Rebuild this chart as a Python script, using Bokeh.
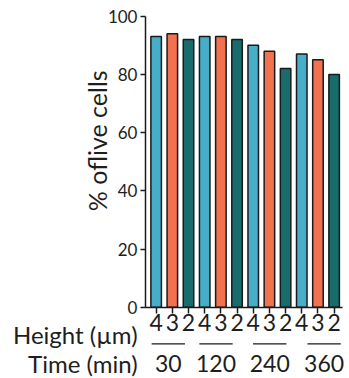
import math
from bokeh.plotting import figure
from bokeh.models import Range1d, FixedTicker, ColumnDataSource
from bokeh.core.properties import value
from bokeh.embed import file_html
from bokeh.resources import INLINE

# Data
heights = ["4", "3", "2"] * 4
times = ["30", "120", "240", "360"]
values = [93, 94, 92, 93, 93, 92, 90, 88, 82, 87, 85, 80]
palette = {"4": "#46AFC7", "3": "#F2714E", "2": "#186C6B"}
y_ticks = [0, 20, 40, 60, 80, 100]
y_label = "% oflive cells"

xs = list(range(1, len(values) + 1))
colors = [palette[h] for h in heights]
src = ColumnDataSource(dict(x=xs, top=values, color=colors))

FONT = "Lato"
TXT = "#1e1e1e"
AX = "#1a1a1a"

X0, X1 = 0.34, 12.5   # axis extent in data units

p = figure(width=349, height=378, output_backend="svg", toolbar_location=None,
           x_range=Range1d(-8.62, 12.95), y_range=Range1d(-24.5, 105.4),
           min_border=0)
p.vbar(x="x", top="top", width=0.65, source=src, fill_color="color",
       line_color=AX, line_width=1.5)

p.grid.visible = False
p.outline_line_color = None
p.background_fill_color = "white"
p.border_fill_color = "white"

# y axis
ya = p.yaxis[0]
ya.fixed_location = X0
ya.bounds = (0, 100)
ya.ticker = FixedTicker(ticks=y_ticks)
ya.major_label_text_font = FONT
ya.major_label_text_font_size = "17px"
ya.major_label_text_color = TXT
ya.major_label_standoff = 3
ya.major_tick_out = 5
ya.major_tick_in = 0
ya.minor_tick_line_color = None
ya.axis_line_width = 1.5
ya.axis_line_color = AX
ya.major_tick_line_width = 1.5
ya.major_tick_line_color = AX

# y axis title (rotated text)
p.text(x=[-2.63], y=[57.2], text=[y_label], angle=math.pi / 2,
       text_align="center", text_baseline="middle", text_font=value(FONT),
       text_font_size="25px", text_color=TXT)

# x axis
xa = p.xaxis[0]
xa.fixed_location = 0
xa.bounds = (X0, X1)
xa.ticker = FixedTicker(ticks=xs)
xa.major_label_overrides = {x: h for x, h in zip(xs, heights)}
xa.major_label_text_font = FONT
xa.major_label_text_font_size = "23px"
xa.major_label_text_color = TXT
xa.major_label_standoff = 1
xa.major_tick_out = 6
xa.major_tick_in = 0
xa.minor_tick_line_color = None
xa.axis_line_width = 1.5
xa.axis_line_color = AX
xa.major_tick_line_width = 1.5
xa.major_tick_line_color = AX

# Row labels
p.text(x=[-0.15, -0.15], y=[-9.4, -19.4], text=["Height (µm)", "Time (min)"],
       text_align="right", text_baseline="alphabetic",
       text_font=value(FONT), text_font_size="24px", text_color=TXT)

# Time groups (label centers: layout positions)
group_centers = [1.75, 4.70, 8.02, 11.38]
p.text(x=group_centers, y=[-19.4] * 4, text=times, text_align="center",
       text_baseline="alphabetic", text_font=value(FONT),
       text_font_size="23px", text_color=TXT)
p.segment(x0=[c - 1.03 for c in group_centers], x1=[c + 1.03 for c in group_centers],
          y0=[-12.6] * 4, y1=[-12.6] * 4, line_width=1.3, line_color=AX)

open("out.html", "w").write(file_html(p, INLINE))
